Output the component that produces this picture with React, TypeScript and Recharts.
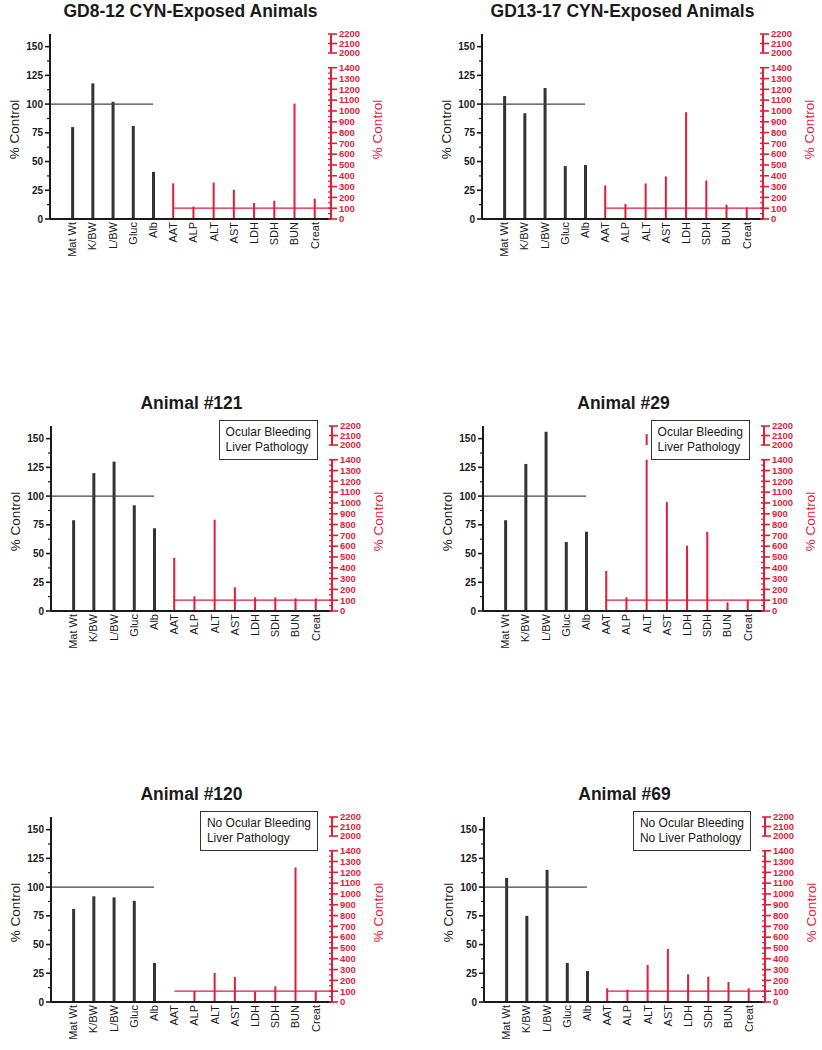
import React from 'react';
import { ComposedChart, Bar, XAxis, YAxis, ReferenceLine } from 'recharts';

const BODY_CATS = ['Mat Wt', 'K/BW', 'L/BW', 'Gluc', 'Alb'];
const ENZYME_CATS = ['AAT', 'ALP', 'ALT', 'AST', 'LDH', 'SDH', 'BUN', 'Creat'];
const ALL_CATS = [...BODY_CATS, ...ENZYME_CATS];

const LEFT_TICKS = [0, 12.5, 25, 37.5, 50, 62.5, 75, 87.5, 100, 112.5, 125, 137.5, 150];
const RIGHT_TICKS = [
  0, 50, 100, 150, 200, 250, 300, 350, 400, 450, 500, 550, 600, 650, 700,
  750, 800, 850, 900, 950, 1000, 1050, 1100, 1150, 1200, 1250, 1300, 1350, 1400,
  2000, 2100, 2200,
];
const CONTROL = 100;

// % of control
const gd812Body = [80, 118, 102, 81, 41];
const gd812Enzymes = [330, 115, 338, 271, 148, 169, 1068, 188];
const gd1317Body = [107, 92, 114, 46, 47];
const gd1317Enzymes = [311, 138, 329, 394, 988, 357, 132, 108];
const a121Body = [79, 120, 130, 92, 72];
const a121Enzymes = [493, 136, 845, 219, 126, 126, 117, 117];
const a29Body = [79, 128, 156, 60, 69];
const a29Enzymes = [370, 126, 2115, 1008, 604, 733, 80, 105];
const a120Body = [81, 92, 91, 88, 34];
const a120Enzymes = [null, 102, 269, 232, 96, 145, 1245, 102];
const a69Body = [108, 75, 115, 34, 27];
const a69Enzymes = [127, 114, 343, 491, 256, 235, 185, 127];

const PANELS = [
  { title: 'GD8-12 CYN-Exposed Animals', body: gd812Body, enzymes: gd812Enzymes, note: null },
  { title: 'GD13-17 CYN-Exposed Animals', body: gd1317Body, enzymes: gd1317Enzymes, note: null },
  { title: 'Animal #121', body: a121Body, enzymes: a121Enzymes, note: ['Ocular Bleeding', 'Liver Pathology'] },
  { title: 'Animal #29', body: a29Body, enzymes: a29Enzymes, note: ['Ocular Bleeding', 'Liver Pathology'] },
  { title: 'Animal #120', body: a120Body, enzymes: a120Enzymes, note: ['No Ocular Bleeding', 'Liver Pathology'] },
  { title: 'Animal #69', body: a69Body, enzymes: a69Enzymes, note: ['No Ocular Bleeding', 'No Liver Pathology'] },
];

// layout
const SLOTS = [
  { axisX: 50, plotTop: 34 },
  { axisX: 482, plotTop: 34 },
  { axisX: 51, plotTop: 426 },
  { axisX: 483, plotTop: 426 },
  { axisX: 51, plotTop: 817 },
  { axisX: 484, plotTop: 817 },
];
const PLOT_W = 281;
const PLOT_H = 185;
const LEFT_W = 50;
const RIGHT_W = 70;
const TOP_PAD = 6;
const X_H = 50;
const X_MIN = -1.1;
const X_MAX = 12.8;

const FONT = '"Liberation Sans", Arial, sans-serif';
const INK = '#1a1a1a';
const BAR = '#333';
const RED = '#e11d3a';

// broken right axis: 0-1400, gap, 2000-2200
const LOW_MAX = 1400;
const HIGH_MIN = 2000;
const GAP = 136;
const HIGH_SCALE = 0.88;
const toAxis = (v: number) => (v <= LOW_MAX ? v : LOW_MAX + GAP + (v - HIGH_MIN) * HIGH_SCALE);
const fromAxis = (t: number) => (t <= LOW_MAX ? t : HIGH_MIN + (t - LOW_MAX - GAP) / HIGH_SCALE);

const buildRows = (body: number[], enzymes: (number | null)[]) => [
  ...BODY_CATS.map((name, i) => ({ pos: i, name, body: body[i] })),
  ...ENZYME_CATS.map((name, i) => {
    const v = enzymes[i];
    const broken = v != null && v > LOW_MAX;
    return {
      pos: BODY_CATS.length + i,
      name,
      low: v == null ? null : Math.min(v, LOW_MAX),
      gap: broken ? GAP : null,
      high: broken ? (v - HIGH_MIN) * HIGH_SCALE : null,
    };
  }),
];

const LeftTick = ({ x, y, payload }: any) => {
  const v = payload.value;
  const major = v % 25 === 0;
  return (
    <g>
      <line x1={x - (major ? 5 : 3)} x2={x} y1={y} y2={y} stroke={INK} strokeWidth={major ? 1.6 : 1.2} />
      {major && (
        <text x={x - 7} y={y} dy="0.35em" textAnchor="end" fontFamily={FONT} fontSize={10} fontWeight="bold" fill={INK}>
          {v}
        </text>
      )}
    </g>
  );
};

const RightTick = ({ x, y, payload }: any) => {
  const raw = Math.round(fromAxis(payload.value));
  const major = raw % 100 === 0;
  return (
    <g>
      <line x1={x - 3} x2={x + (major ? 6 : 0)} y1={y} y2={y} stroke={RED} strokeWidth={major ? 1.6 : 1.2} />
      {major && (
        <text x={x + 8} y={y} dy="0.35em" textAnchor="start" fontFamily={FONT} fontSize={9.5} fontWeight="bold" fill={RED}>
          {raw}
        </text>
      )}
    </g>
  );
};

const CatTick = ({ x, y, payload }: any) => (
  <text
    x={x}
    y={y}
    dy="0.35em"
    transform={`rotate(-90 ${x} ${y})`}
    textAnchor="end"
    fontFamily={FONT}
    fontSize={11}
    fill={INK}
  >
    {ALL_CATS[payload.value]}
  </text>
);

const axisTitle = (side: 'left' | 'right') => (props: any) => {
  const vb = props.viewBox || {};
  const cx = side === 'left' ? vb.x + vb.width - 36 : vb.x + 46;
  const cy = vb.y + vb.height / 2 + 3;
  return (
    <text
      x={cx}
      y={cy}
      dy="0.35em"
      textAnchor="middle"
      transform={`rotate(-90 ${cx} ${cy})`}
      fontFamily={FONT}
      fontSize={13.5}
      fill={side === 'left' ? INK : RED}
    >
      % Control
    </text>
  );
};

const Panel = ({ panel, slot }: any) => {
  const rows = buildRows(panel.body, panel.enzymes);
  return (
    <>
      <div
        style={{
          position: 'absolute',
          left: slot.axisX,
          top: slot.plotTop - 33,
          width: PLOT_W,
          textAlign: 'center',
          fontFamily: FONT,
          fontWeight: 'bold',
          fontSize: 17.5,
          lineHeight: '20px',
          color: INK,
          whiteSpace: 'nowrap',
        }}
      >
        {panel.title}
      </div>
      <div style={{ position: 'absolute', left: slot.axisX - LEFT_W, top: slot.plotTop - TOP_PAD }}>
        <ComposedChart
          width={LEFT_W + PLOT_W + RIGHT_W}
          height={TOP_PAD + PLOT_H + X_H}
          data={rows}
          margin={{ top: TOP_PAD, right: 0, bottom: 0, left: 0 }}
        >
          <XAxis
            xAxisId="a"
            type="number"
            dataKey="pos"
            domain={[X_MIN, X_MAX]}
            ticks={ALL_CATS.map((_, i) => i)}
            interval={0}
            height={X_H}
            tickSize={0}
            tickMargin={3}
            tickLine={false}
            axisLine={{ stroke: INK, strokeWidth: 2 }}
            tick={(p: any) => <CatTick {...p} />}
          />
          <XAxis xAxisId="b" type="number" dataKey="pos" domain={[X_MIN, X_MAX]} hide />
          <YAxis
            yAxisId="left"
            orientation="left"
            width={LEFT_W}
            domain={[0, 161]}
            ticks={LEFT_TICKS}
            interval={0}
            tickSize={0}
            tickMargin={0}
            tickLine={false}
            axisLine={{ stroke: INK, strokeWidth: 2 }}
            tick={(p: any) => <LeftTick {...p} />}
            label={axisTitle('left')}
          />
          <YAxis
            yAxisId="right"
            orientation="right"
            width={RIGHT_W}
            domain={[0, toAxis(2200)]}
            ticks={RIGHT_TICKS.map(toAxis)}
            interval={0}
            tickSize={0}
            tickMargin={0}
            tickLine={false}
            axisLine={false}
            tick={(p: any) => <RightTick {...p} />}
            label={axisTitle('right')}
          />
          <ReferenceLine
            xAxisId="a"
            yAxisId="left"
            segment={[{ x: X_MIN, y: CONTROL }, { x: BODY_CATS.length - 1, y: CONTROL }]}
            stroke="#444"
            strokeWidth={1.2}
          />
          <ReferenceLine
            xAxisId="b"
            yAxisId="right"
            segment={[{ x: BODY_CATS.length, y: toAxis(CONTROL) }, { x: X_MAX, y: toAxis(CONTROL) }]}
            stroke={RED}
            strokeWidth={1.2}
          />
          <ReferenceLine
            xAxisId="b"
            yAxisId="right"
            segment={[{ x: X_MAX, y: 0 }, { x: X_MAX, y: toAxis(LOW_MAX) }]}
            stroke={RED}
            strokeWidth={2}
          />
          <ReferenceLine
            xAxisId="b"
            yAxisId="right"
            segment={[{ x: X_MAX, y: toAxis(HIGH_MIN) }, { x: X_MAX, y: toAxis(2200) }]}
            stroke={RED}
            strokeWidth={2}
          />
          <Bar xAxisId="a" yAxisId="left" dataKey="body" fill={BAR} barSize={3} isAnimationActive={false} />
          <Bar xAxisId="b" yAxisId="right" dataKey="low" stackId="r" fill={RED} barSize={2} isAnimationActive={false} />
          <Bar xAxisId="b" yAxisId="right" dataKey="gap" stackId="r" fill="transparent" barSize={2} isAnimationActive={false} />
          <Bar xAxisId="b" yAxisId="right" dataKey="high" stackId="r" fill={RED} barSize={2} isAnimationActive={false} />
        </ComposedChart>
      </div>
      {panel.note && (
        <div
          style={{
            position: 'absolute',
            left: slot.axisX,
            top: slot.plotTop - 6,
            width: 267,
            display: 'flex',
            justifyContent: 'flex-end',
          }}
        >
          <div
            style={{
              border: '1px solid #333',
              padding: '4px 6px',
              fontFamily: FONT,
              fontSize: 12,
              lineHeight: '15px',
              color: INK,
              background: '#fff',
              whiteSpace: 'nowrap',
            }}
          >
            {panel.note.map((line: string) => (
              <div key={line}>{line}</div>
            ))}
          </div>
        </div>
      )}
    </>
  );
};

export default function App() {
  return (
    <div
      style={{
        position: 'absolute',
        left: 0,
        top: 0,
        width: 822,
        height: 1050,
        overflow: 'hidden',
        background: '#fff',
      }}
    >
      {PANELS.map((panel, i) => (
        <Panel key={panel.title} panel={panel} slot={SLOTS[i]} />
      ))}
    </div>
  );
}
